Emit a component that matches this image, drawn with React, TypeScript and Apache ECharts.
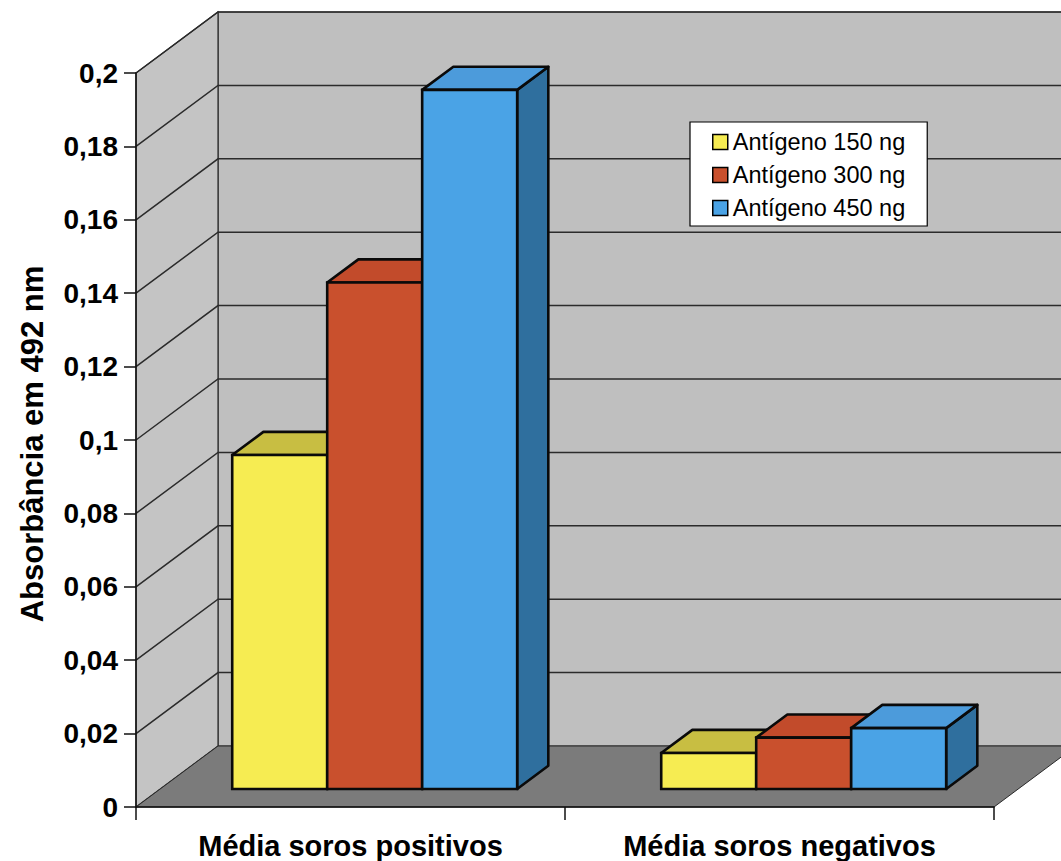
import React, { useEffect, useRef } from "react";
import * as echarts from "echarts";

// Categories, series and values
const categories = ["Média soros positivos", "Média soros negativos"];
const seriesNames = ["Antígeno 150 ng", "Antígeno 300 ng", "Antígeno 450 ng"];
const values150 = [0.091, 0.0098];
const values300 = [0.138, 0.014];
const values450 = [0.1905, 0.0166];
const yTickValues = [0, 0.02, 0.04, 0.06, 0.08, 0.1, 0.12, 0.14, 0.16, 0.18, 0.2];
const yTitle = "Absorbância em 492 nm";

const seriesValues = [values150, values300, values450];

// Face colours for each series: front, top, side
const frontColors = ["#f6ec52", "#c9502d", "#4aa3e6"];
const topColors = ["#c8be42", "#c24b2b", "#4c9bdb"];
const sideColors = ["#a79e2e", "#8d3820", "#2f6f9e"];

const FONT = '"Liberation Sans", Arial, sans-serif';
// Oblique depth of the plot box (pixels)
const DEPTH = { x: 82, y: -61 };
const BAR_OFFSET = 0.295; // where bars stand inside the depth
const BAR_DEPTH = 0.38; // depth of a bar relative to the box
const BAR_WIDTH_RATIO = 0.2214;

function renderWalls(params: any, api: any) {
  const cs = params.coordSys;
  const left = cs.x;
  const right = cs.x + cs.width;
  const y0 = api.coord([0, 0])[1];
  const yTop = api.coord([0, yTickValues[yTickValues.length - 1]])[1];
  const lineColor = "#2b2b2b";
  const children: any[] = [];
  children.push({
    type: "rect",
    shape: { x: left + DEPTH.x, y: yTop + DEPTH.y, width: right - left, height: y0 - yTop },
    style: { fill: "#bfbfbf", stroke: lineColor, lineWidth: 1.2 },
  });
  children.push({
    type: "polygon",
    shape: {
      points: [
        [left, y0],
        [left + DEPTH.x, y0 + DEPTH.y],
        [left + DEPTH.x, yTop + DEPTH.y],
        [left, yTop],
      ],
    },
    style: { fill: "#c4c4c4", stroke: lineColor, lineWidth: 1.2 },
  });
  yTickValues.forEach((v) => {
    if (v <= 0) return;
    const y = api.coord([0, v])[1];
    children.push({
      type: "polyline",
      shape: {
        points: [
          [left, y],
          [left + DEPTH.x, y + DEPTH.y],
          [right + DEPTH.x, y + DEPTH.y],
        ],
      },
      style: { stroke: lineColor, lineWidth: 1.5, fill: null },
    });
  });
  children.push({
    type: "polygon",
    shape: {
      points: [
        [left, y0],
        [right, y0],
        [right + DEPTH.x, y0 + DEPTH.y],
        [left + DEPTH.x, y0 + DEPTH.y],
      ],
    },
    style: { fill: "#7b7b7b", stroke: lineColor, lineWidth: 1 },
  });
  return { type: "group", children };
}

function makeBarRenderer(s: number) {
  return function (params: any, api: any) {
    const cat = api.value(0);
    const val = api.value(1);
    const band = api.size([1, 0])[0];
    const bw = band * BAR_WIDTH_RATIO;
    const c0 = api.coord([cat, 0]);
    const cv = api.coord([cat, val]);
    const ox = DEPTH.x * BAR_OFFSET;
    const oy = DEPTH.y * BAR_OFFSET;
    const dx = DEPTH.x * BAR_DEPTH;
    const dy = DEPTH.y * BAR_DEPTH;
    const x0 = c0[0] + ox + (s - 1.5) * bw;
    const x1 = x0 + bw;
    const yb = c0[1] + oy;
    const yt = cv[1] + oy;
    const stroke = "#0a0a0a";
    const lw = 2.6;
    return {
      type: "group",
      children: [
        {
          type: "polygon",
          shape: {
            points: [
              [x1, yt],
              [x1, yb],
              [x1 + dx, yb + dy],
              [x1 + dx, yt + dy],
            ],
          },
          style: { fill: sideColors[s], stroke, lineWidth: lw, lineJoin: "round" },
        },
        {
          type: "polygon",
          shape: {
            points: [
              [x0, yt],
              [x1, yt],
              [x1 + dx, yt + dy],
              [x0 + dx, yt + dy],
            ],
          },
          style: { fill: topColors[s], stroke, lineWidth: lw, lineJoin: "round" },
        },
        {
          type: "rect",
          shape: { x: x0, y: yt, width: bw, height: yb - yt },
          style: { fill: frontColors[s], stroke, lineWidth: lw },
        },
      ],
    };
  };
}

export default function App() {
  const ref = useRef<HTMLDivElement>(null);

  useEffect(() => {
    if (!ref.current) return;
    const chart = echarts.init(ref.current, undefined, { renderer: "svg" });
    const barSeries = seriesNames.map((name, s) => ({
      type: "custom",
      name,
      z: 3,
      renderItem: makeBarRenderer(s),
      encode: { x: 0, y: 1 },
      itemStyle: { color: frontColors[s] },
      data: categories.map((_, i) => [i, seriesValues[s][i]]),
    }));
    chart.setOption({
      animation: false,
      backgroundColor: "#ffffff",
      textStyle: { fontFamily: FONT },
      grid: { left: 136, right: 67, top: 73, bottom: 54 },
      legend: {
        data: seriesNames,
        orient: "vertical",
        left: 690,
        top: 122,
        backgroundColor: "#ffffff",
        borderColor: "#000000",
        borderWidth: 1.2,
        borderRadius: 0,
        padding: [8, 22, 6, 22],
        itemWidth: 15,
        itemHeight: 15,
        itemGap: 9,
        icon: "rect",
        itemStyle: { borderColor: "#000000", borderWidth: 1.5 },
        textStyle: { fontSize: 23.5, color: "#000000", fontFamily: FONT, lineHeight: 23 },
      },
      xAxis: {
        type: "category",
        data: categories,
        z: 10,
        axisLine: { show: true, lineStyle: { color: "#111111", width: 1.5 } },
        axisTick: { show: true, length: 13, lineStyle: { color: "#111111", width: 1.5 } },
        axisLabel: {
          fontSize: 29,
          fontWeight: "bold",
          color: "#000000",
          margin: 24,
          fontFamily: FONT,
        },
        splitLine: { show: false },
      },
      yAxis: {
        type: "value",
        min: 0,
        max: 0.2,
        interval: 0.02,
        z: 10,
        axisLine: { show: true, lineStyle: { color: "#111111", width: 1.5 } },
        axisTick: { show: true, length: 12, lineStyle: { color: "#111111", width: 1.5 } },
        axisLabel: {
          fontSize: 28,
          fontWeight: "bold",
          color: "#000000",
          margin: 18,
          fontFamily: FONT,
          formatter: (v: number) => String(Number(v.toFixed(2))).replace(".", ","),
        },
        splitLine: { show: false },
      },
      graphic: [
        {
          type: "text",
          x: 32,
          y: 444,
          rotation: Math.PI / 2,
          style: {
            text: yTitle,
            font: `bold 31px ${FONT}`,
            fill: "#000000",
            textAlign: "center",
            textVerticalAlign: "middle",
          },
        },
      ],
      series: [
        {
          type: "custom",
          name: "walls",
          silent: true,
          z: 1,
          renderItem: renderWalls,
          encode: { x: 0, y: 1 },
          data: [[0, 0]],
        },
        ...barSeries,
      ],
    });
    return () => chart.dispose();
  }, []);

  return (
    <div
      ref={ref}
      style={{ position: "absolute", left: 0, top: 0, width: 1061, height: 861 }}
    />
  );
}
